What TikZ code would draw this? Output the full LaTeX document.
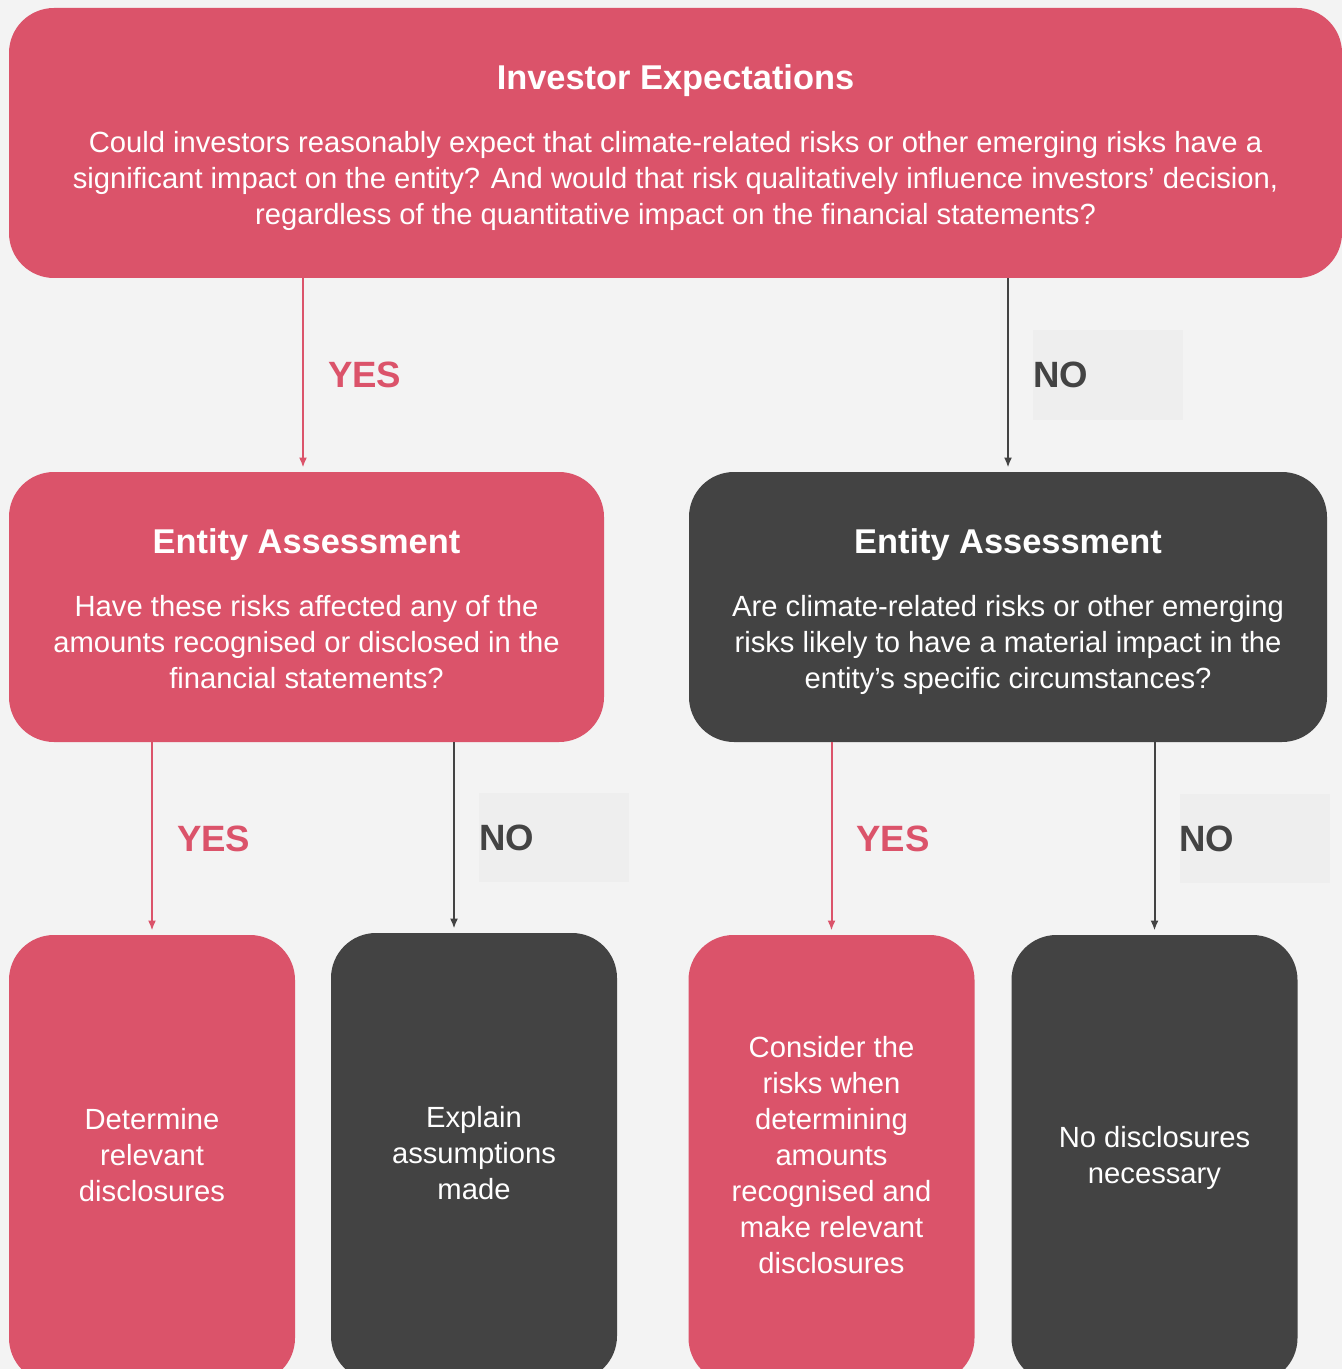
\documentclass[tikz,border=0pt]{standalone}
\usepackage{fontspec}
\setmainfont{Liberation Sans}
\usetikzlibrary{arrows.meta, positioning}

\definecolor{riskred}{HTML}{DB536A}
\definecolor{charcoal}{HTML}{434343}
\definecolor{paper}{HTML}{F3F3F3}
\definecolor{tagfill}{HTML}{EEEEEE}

% bold heading line with a fixed height
\newcommand{\cardtitle}[1]{{\fontsize{17.2}{18}\selectfont\bfseries\rule{0pt}{17.8pt}#1}}

\begin{document}
\begin{tikzpicture}[
        x=0.5pt, y=-0.5pt,
        card/.style={
            rectangle,
            rounded corners=22.5pt,
            text=white,
            align=center,
            inner sep=0pt,
            font=\fontsize{14.6}{18}\selectfont,
            execute at end node={\rule[-4pt]{0pt}{4pt}}
        },
        question/.style={card, minimum height=135pt},
        outcome/.style={card, minimum width=143pt, minimum height=224pt},
        yescard/.style={fill=riskred},
        nocard/.style={fill=charcoal},
        arrow/.style={
            ->,
            >={Latex[length=5pt, width=4pt]},
            line width=1pt,
            shorten >=2pt
        },
        yesarrow/.style={arrow, riskred},
        noarrow/.style={arrow, charcoal},
        answer/.style={font=\fontsize{18.3}{20}\selectfont\bfseries, inner sep=0pt, right=12pt},
        yestag/.style={answer, text=riskred},
        notag/.style={answer, text=charcoal, fill=tagfill, text width=75pt, align=left, minimum height=44.5pt}
    ]
    % page
    \clip (0,0) rectangle (1342,1369);
    \fill[paper] (0,0) rectangle (1342,1369);

    % First question (top)
    \node[question, yescard, minimum width=666.5pt] (expect) at (675.5,143)
        {\cardtitle{Investor Expectations}\\[13.5pt]
         Could investors reasonably expect that climate-related risks or other emerging risks have a\\
         significant impact on the entity? And would that risk qualitatively influence investors’ decision,\\
         regardless of the quantitative impact on the financial statements?};

    % Entity assessments (middle row)
    \node[question, yescard, minimum width=297.5pt] (assessL) at (306.5,607)
        {\cardtitle{Entity Assessment}\\[13.5pt]
         Have these risks affected any of the\\
         amounts recognised or disclosed in the\\
         financial statements?};
    \node[question, nocard, minimum width=319pt] (assessR) at (1008,607)
        {\cardtitle{Entity Assessment}\\[13.5pt]
         Are climate-related risks or other emerging\\
         risks likely to have a material impact in the\\
         entity’s specific circumstances?};

    % Outcomes (bottom row, running off the page)
    \node[outcome, yescard] (determine) at (152,1159) {Determine\\relevant\\disclosures};
    \node[outcome, nocard]  (explain)   at (474,1157) {Explain\\assumptions\\made};
    \node[outcome, yescard] (consider)  at (831.5,1159)
        {Consider the\\risks when\\determining\\amounts\\recognised and\\make relevant\\disclosures};
    \node[outcome, nocard]  (nodiscl)   at (1154.5,1159) {No disclosures\\necessary};

    % Arrows: top -> middle
    \coordinate (assessLIn) at ([xshift=-1.75pt]assessL.north);
    \draw[yesarrow] (expect.south -| assessLIn) -- node[yestag] (yesA) {YES} (assessLIn);
    \draw[noarrow]  (expect.south -| assessR.north) -- node[notag] (noA) {NO} (assessR.north);

    % Arrows: middle -> bottom
    \coordinate (explainIn) at ([xshift=-10pt]explain.north);
    \draw[yesarrow] (assessL.south -| determine.north) -- node[yestag] (yesB) {YES} (determine.north);
    \draw[noarrow]  (assessL.south -| explainIn)       -- node[notag]  (noB)  {NO}  (explainIn);
    \draw[yesarrow] (assessR.south -| consider.north)  -- node[yestag] (yesC) {YES} (consider.north);
    \draw[noarrow]  (assessR.south -| nodiscl.north)   -- node[notag]  (noC)  {NO}  (nodiscl.north);

\end{tikzpicture}
\end{document}
